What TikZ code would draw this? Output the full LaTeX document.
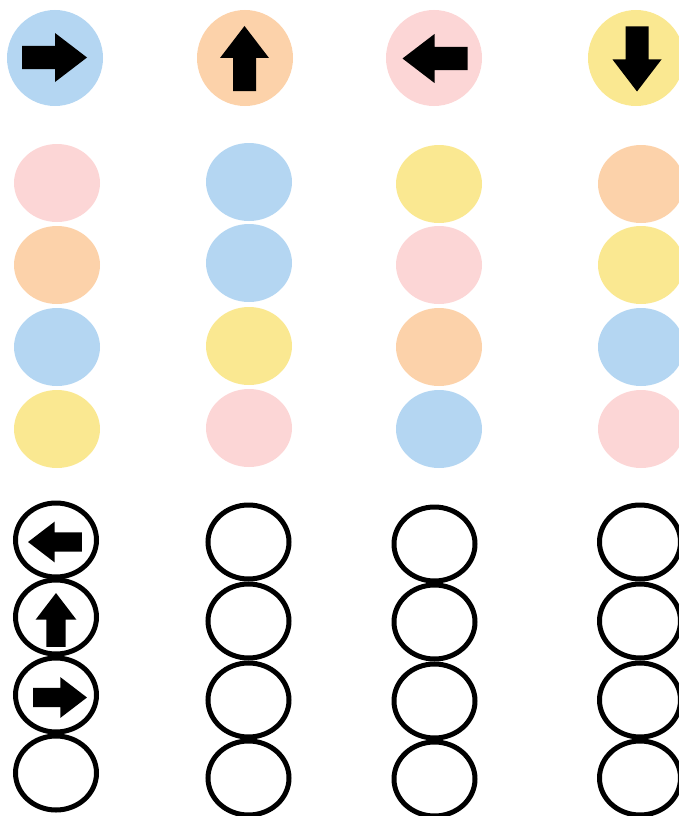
\documentclass[tikz,border=0pt]{standalone}
\usetikzlibrary{shapes.geometric}
\definecolor{dotblue}{HTML}{B4D6F2}
\definecolor{dotorange}{HTML}{FCD2AA}
\definecolor{dotpink}{HTML}{FCD6D6}
\definecolor{dotyellow}{HTML}{FAE891}
\begin{document}
\begin{tikzpicture}[x=1pt, y=-1pt,
          cue/.style={circle, fill=#1, minimum size=96pt, inner sep=0pt},
          dot/.style={ellipse, fill=#1, minimum width=86pt, minimum height=78pt, inner sep=0pt},
          slot/.style={ellipse, draw=black, line width=5pt, minimum width=81pt, minimum height=74pt, inner sep=0pt},
          pointer/.pic={\fill[black] (-32.5,-11.5) -- (0.5,-11.5) -- (0.5,-24.5) -- (32.5,0) -- (0.5,24.5) -- (0.5,11.5) -- (-32.5,11.5) -- cycle;}]
        \useasboundingbox (0,0) rectangle (679,816);
        % cues
        \node[cue=dotblue] (t1) at (55,58) {};
        \node[cue=dotorange] (t2) at (245,58) {};
        \node[cue=dotpink] (t3) at (434,58) {};
        \node[cue=dotyellow] (t4) at (636,58) {};
        \pic at (54.5,57.5) {pointer};
        \pic[rotate=90] at (244.5,58.5) {pointer};
        \pic[rotate=180] at (435,58.5) {pointer};
        \pic[rotate=-90] at (637,59) {pointer};
        % coloured dots
        \node[dot=dotpink] (m11) at (57,183) {};
        \node[dot=dotorange] (m12) at (57,265) {};
        \node[dot=dotblue] (m13) at (57,347) {};
        \node[dot=dotyellow] (m14) at (57,429) {};
        \node[dot=dotblue] (m21) at (249,182) {};
        \node[dot=dotblue] (m22) at (249,263) {};
        \node[dot=dotyellow] (m23) at (249,346) {};
        \node[dot=dotpink] (m24) at (249,428) {};
        \node[dot=dotyellow] (m31) at (439,184) {};
        \node[dot=dotpink] (m32) at (439,265) {};
        \node[dot=dotorange] (m33) at (439,347) {};
        \node[dot=dotblue] (m34) at (439,429) {};
        \node[dot=dotorange] (m41) at (641,184) {};
        \node[dot=dotyellow] (m42) at (641,265) {};
        \node[dot=dotblue] (m43) at (641,347) {};
        \node[dot=dotpink] (m44) at (641,429) {};
        % answer slots
        \node[slot] (b11) at (56,540) {};
        \node[slot] (b12) at (56,617) {};
        \node[slot] (b13) at (56,695) {};
        \node[slot] (b14) at (56,773) {};
        \node[slot] (b21) at (248.5,542) {};
        \node[slot] (b22) at (248.5,621) {};
        \node[slot] (b23) at (248.5,700) {};
        \node[slot] (b24) at (248.5,778) {};
        \node[slot] (b31) at (434.5,544) {};
        \node[slot] (b32) at (434.5,622) {};
        \node[slot] (b33) at (434.5,701) {};
        \node[slot] (b34) at (434.5,779) {};
        \node[slot] (b41) at (640,542) {};
        \node[slot] (b42) at (640,621) {};
        \node[slot] (b43) at (640,700) {};
        \node[slot] (b44) at (640,778) {};
        \pic[rotate=180, scale=0.83] at (55,542) {pointer};
        \pic[rotate=90, scale=0.83] at (56,620) {pointer};
        \pic[scale=0.83] at (60,697.5) {pointer};
      \end{tikzpicture}
\end{document}
